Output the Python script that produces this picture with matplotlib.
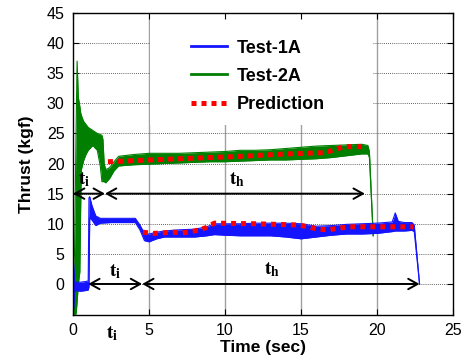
import matplotlib
matplotlib.use("Agg")
import matplotlib.pyplot as plt
from matplotlib.patches import Rectangle
from matplotlib.lines import Line2D

plt.rcParams['font.family'] = ['Liberation Sans', 'DejaVu Sans']
plt.rcParams['mathtext.fontset'] = 'stix'

# ---- data ----
# Test-1A (blue): noisy band given by lower / upper envelope
blue_t  = [0.0, 0.05, 0.1, 0.2, 0.5, 0.8, 1.0, 1.05, 1.1, 1.25, 1.5, 1.8, 2.5, 3.5, 4.1, 4.4, 4.7, 5.0, 5.5, 6.0, 7.0, 8.0, 8.8, 9.3, 10.0,
           11.0, 12.0, 13.0, 14.0, 15.0, 16.0, 17.0, 18.0, 19.0, 20.0, 21.0, 21.2, 21.4, 21.8, 22.3, 22.45, 22.8]
blue_hi = [4.8, 3.0, 0.4, 0.3, 0.3, 0.4, 0.5, 14.3, 14.5, 13.0, 11.3, 10.9, 10.9, 10.9, 10.9, 9.8, 8.4, 8.3, 8.6, 8.8, 9.0, 9.1, 9.5, 10.0, 10.0,
           10.0, 10.1, 10.1, 10.1, 10.0, 9.6, 9.7, 9.9, 10.0, 10.1, 10.3, 11.8, 10.4, 10.2, 10.2, 9.8, 0.0]
blue_lo = [-3.8, -4.0, -1.3, -1.1, -1.2, -1.1, -1.0, -0.5, 11.0, 10.6, 9.7, 10.1, 10.2, 10.2, 10.2, 9.0, 7.2, 7.0, 7.5, 7.8, 7.8, 7.8, 8.0, 8.2, 8.1,
           8.0, 8.0, 8.0, 7.8, 7.5, 7.8, 8.1, 8.3, 8.3, 8.4, 8.7, 8.8, 8.8, 8.8, 8.9, 8.7, 0.0]

# Test-2A (green)
green_t  = [0.0, 0.1, 0.2, 0.27, 0.35, 0.45, 0.5, 0.55, 0.7, 0.85, 1.0, 1.3, 1.6, 1.8, 1.9, 1.97, 2.05, 2.15, 2.4, 2.7, 3.0, 4.0, 5.0, 6.0, 7.0,
            8.0, 9.0, 10.0, 11.0, 12.0, 13.0, 14.0, 15.0, 16.0, 17.0, 18.0, 19.0, 19.4, 19.5, 19.75]
green_hi = [0.0, 5.0, 25.0, 37.0, 31.0, 29.5, 28.5, 28.0, 27.0, 26.5, 26.0, 25.5, 25.0, 24.8, 24.7, 24.0, 20.0, 19.0, 19.3, 20.3, 21.2, 21.5, 21.7, 21.7, 21.7,
            21.8, 21.9, 22.0, 22.2, 22.2, 22.3, 22.5, 22.7, 22.9, 23.0, 23.1, 23.2, 23.0, 22.0, 8.0]
green_lo = [-5.0, -5.0, -5.0, -3.0, 0.0, 2.0, 12.0, 19.0, 20.5, 21.5, 22.2, 23.0, 22.2, 19.5, 17.0, 17.0, 17.0, 16.8, 17.5, 18.8, 19.6, 19.8, 19.9, 20.0, 20.1,
            20.2, 20.3, 20.3, 20.4, 20.5, 20.6, 20.6, 20.7, 20.8, 21.0, 21.3, 21.6, 21.6, 21.0, 8.0]

# Prediction (red dotted)
pred1_t = [2.3, 5.0, 8.0, 11.0, 14.0, 16.5, 17.2, 17.8, 19.3]
pred1_y = [20.3, 20.6, 20.9, 21.2, 21.6, 21.8, 22.3, 22.8, 22.8]
pred2_t = [4.6, 5.3, 6.6, 7.2, 8.0, 8.7, 9.3, 12.0, 14.8, 15.5, 16.1, 16.8, 17.6, 18.2, 22.4]
pred2_y = [8.6, 8.4, 8.6, 8.5, 8.8, 9.3, 10.1, 10.0, 9.8, 9.5, 9.1, 9.0, 9.3, 9.5, 9.5]

# interval arrows: (start, end, level)
arrows = [(0.0, 2.1, 15), (2.1, 19.2, 15), (1.0, 4.55, 0), (4.55, 22.8, 0)]
arrow_labels = [(0.75, 17.4, r'$\mathbf{t_i}$'), (10.8, 17.4, r'$\mathbf{t_h}$'),
                (2.8, 2.0, r'$\mathbf{t_i}$'), (13.1, 2.3, r'$\mathbf{t_h}$'),
                (2.6, -8.2, r'$\mathbf{t_i}$')]

xticks = [0, 5, 10, 15, 20, 25]
yticks = [0, 5, 10, 15, 20, 25, 30, 35, 40, 45]

BLUE = '#1414ff'
GREEN = '#007f00'
RED = '#ff0000'

fig = plt.figure(figsize=(4.69, 3.60), dpi=100)
ax = fig.add_axes([73/469, 45/360, 380/469, 302/360])
ax.set_xlim(0, 25)
ax.set_ylim(-5.15, 45)
ax.set_xticks(xticks)
ax.set_yticks(yticks)

# grid
for x in xticks[1:-1]:
    ax.axvline(x, color='#a0a0a0', lw=1.0, zorder=0.5)
for y in yticks[:-1]:
    ax.axhline(y, color='#303030', lw=0.6, ls=(0, (1, 1.5)), zorder=0.5)

# white legend area covering the grid
ax.add_patch(Rectangle((0.203, 0.63), 0.587, 0.37, transform=ax.transAxes,
                       facecolor='white', edgecolor='none', zorder=1))

# data
ax.fill_between(green_t, green_lo, green_hi, color=GREEN, lw=0, zorder=2)
ax.plot(green_t, green_hi, color=GREEN, lw=0.8, zorder=2)
ax.plot(green_t, green_lo, color=GREEN, lw=0.8, zorder=2)
ax.fill_between(blue_t, blue_lo, blue_hi, color=BLUE, lw=0, zorder=3)
ax.plot(blue_t, blue_hi, color=BLUE, lw=0.8, zorder=3)
ax.plot(blue_t, blue_lo, color=BLUE, lw=0.8, zorder=3)
ax.plot(pred1_t, pred1_y, color=RED, lw=3.6, ls=(0, (1, 1)), zorder=4)
ax.plot(pred2_t, pred2_y, color=RED, lw=3.6, ls=(0, (1, 1)), zorder=4)

for x0, x1, y in arrows:
    ax.annotate('', xy=(x1, y), xytext=(x0, y),
                arrowprops=dict(arrowstyle='<->,head_length=0.45,head_width=0.25',
                                lw=1.4, color='black', shrinkA=0, shrinkB=0,
                                mutation_scale=15), zorder=5)
for x, y, s in arrow_labels:
    ax.text(x, y, s, fontsize=14, ha='center', va='center', zorder=6, clip_on=False)

# legend
handles = [Line2D([], [], color=BLUE, lw=2.0),
           Line2D([], [], color=GREEN, lw=2.0),
           Line2D([], [], color=RED, lw=3.6, ls=(0, (1, 1)))]
leg = ax.legend(handles, ['Test-1A', 'Test-2A', 'Prediction'], loc='upper left',
                bbox_to_anchor=(0.31, 0.912), frameon=False, borderpad=0, borderaxespad=0,
                handlelength=2.0, handletextpad=0.55, labelspacing=0.62,
                prop={'weight': 'bold', 'size': 13})
leg.set_zorder(7)

ax.tick_params(direction='in', top=True, right=True, length=4, width=0.8,
               labelsize=11.5, pad=6)
for sp in ax.spines.values():
    sp.set_linewidth(1.0)
    sp.set_zorder(8)

ax.set_xlabel('Time (sec)', fontsize=12.5, fontweight='bold', labelpad=1)
ax.set_ylabel('Thrust (kgf)', fontsize=12.5, fontweight='bold', labelpad=9)

fig.savefig('out.png', dpi=100)
